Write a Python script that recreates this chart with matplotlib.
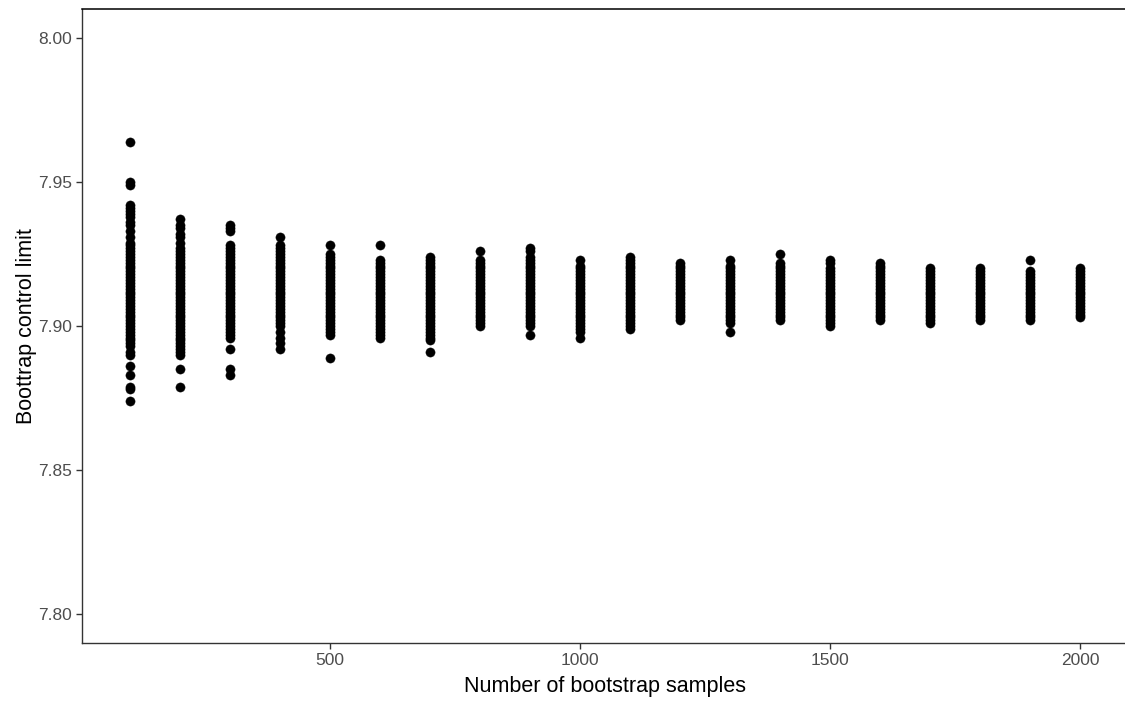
import matplotlib.pyplot as plt

# Bootstrap control limits observed at each number of bootstrap samples
sample_sizes = [100, 200, 300, 400, 500, 600, 700, 800, 900, 1000,
                1100, 1200, 1300, 1400, 1500, 1600, 1700, 1800, 1900, 2000]

limits_100 = [7.964, 7.950, 7.949, 7.942, 7.941, 7.940, 7.939, 7.938, 7.936, 7.935, 7.933,
              7.931, 7.929, 7.928, 7.927, 7.926, 7.925, 7.924, 7.923, 7.922, 7.921, 7.920,
              7.919, 7.918, 7.917, 7.916, 7.915, 7.914, 7.913, 7.912, 7.911, 7.910, 7.909,
              7.908, 7.907, 7.906, 7.905, 7.904, 7.903, 7.902, 7.901, 7.900, 7.899, 7.898,
              7.897, 7.896, 7.895, 7.894, 7.893, 7.891, 7.890, 7.886, 7.883, 7.879, 7.878,
              7.874]
limits_200 = [7.937, 7.935, 7.934, 7.932, 7.931, 7.929, 7.927, 7.926, 7.925, 7.924, 7.923,
              7.922, 7.921, 7.920, 7.919, 7.918, 7.917, 7.916, 7.915, 7.914, 7.913, 7.912,
              7.911, 7.910, 7.909, 7.908, 7.907, 7.906, 7.905, 7.904, 7.903, 7.902, 7.901,
              7.900, 7.899, 7.898, 7.897, 7.896, 7.895, 7.894, 7.893, 7.892, 7.891, 7.890,
              7.885, 7.879]
limits_300 = [7.935, 7.934, 7.933, 7.928, 7.927, 7.926, 7.925, 7.924, 7.923, 7.922, 7.921,
              7.920, 7.919, 7.918, 7.917, 7.916, 7.915, 7.914, 7.913, 7.912, 7.911, 7.910,
              7.909, 7.908, 7.907, 7.906, 7.905, 7.904, 7.903, 7.902, 7.901, 7.900, 7.899,
              7.898, 7.897, 7.896, 7.892, 7.885, 7.883]
limits_400 = [7.931, 7.928, 7.927, 7.926, 7.925, 7.924, 7.923, 7.922, 7.921, 7.920, 7.919,
              7.918, 7.917, 7.916, 7.915, 7.914, 7.913, 7.912, 7.911, 7.910, 7.909, 7.908,
              7.907, 7.906, 7.905, 7.904, 7.903, 7.902, 7.901, 7.900, 7.898, 7.896, 7.894,
              7.892]
limits_500 = [7.928, 7.925, 7.924, 7.923, 7.922, 7.921, 7.920, 7.919, 7.918, 7.917, 7.916,
              7.915, 7.914, 7.913, 7.912, 7.911, 7.910, 7.909, 7.908, 7.907, 7.906, 7.905,
              7.904, 7.903, 7.902, 7.901, 7.900, 7.899, 7.898, 7.897, 7.889]
limits_600 = [7.928, 7.923, 7.922, 7.921, 7.920, 7.919, 7.918, 7.917, 7.916, 7.915, 7.914,
              7.913, 7.912, 7.911, 7.910, 7.909, 7.908, 7.907, 7.906, 7.905, 7.904, 7.903,
              7.902, 7.901, 7.900, 7.899, 7.898, 7.897, 7.896]
limits_700 = [7.924, 7.923, 7.922, 7.921, 7.920, 7.919, 7.918, 7.917, 7.916, 7.915, 7.914,
              7.913, 7.912, 7.911, 7.910, 7.909, 7.908, 7.907, 7.906, 7.905, 7.904, 7.903,
              7.902, 7.901, 7.900, 7.899, 7.898, 7.897, 7.896, 7.895, 7.891]
limits_800 = [7.926, 7.923, 7.922, 7.921, 7.920, 7.919, 7.918, 7.917, 7.916, 7.915, 7.914,
              7.913, 7.912, 7.911, 7.910, 7.909, 7.908, 7.907, 7.906, 7.905, 7.904, 7.903,
              7.902, 7.901, 7.900]
limits_900 = [7.927, 7.926, 7.924, 7.923, 7.922, 7.921, 7.920, 7.919, 7.918, 7.917, 7.916,
              7.915, 7.914, 7.913, 7.912, 7.911, 7.910, 7.909, 7.908, 7.907, 7.906, 7.905,
              7.904, 7.903, 7.902, 7.901, 7.900, 7.897]
limits_1000 = [7.923, 7.921, 7.920, 7.919, 7.918, 7.917, 7.916, 7.915, 7.914, 7.913, 7.912,
               7.911, 7.910, 7.909, 7.908, 7.907, 7.906, 7.905, 7.904, 7.903, 7.902, 7.901,
               7.900, 7.899, 7.898, 7.896]
limits_1100 = [7.924, 7.923, 7.922, 7.921, 7.920, 7.919, 7.918, 7.917, 7.916, 7.915, 7.914,
               7.913, 7.912, 7.911, 7.910, 7.909, 7.908, 7.907, 7.906, 7.905, 7.904, 7.903,
               7.902, 7.901, 7.900, 7.899]
limits_1200 = [7.922, 7.921, 7.920, 7.919, 7.918, 7.917, 7.916, 7.915, 7.914, 7.913, 7.912,
               7.911, 7.910, 7.909, 7.908, 7.907, 7.906, 7.905, 7.904, 7.903, 7.902]
limits_1300 = [7.923, 7.921, 7.920, 7.919, 7.918, 7.917, 7.916, 7.915, 7.914, 7.913, 7.912,
               7.911, 7.910, 7.909, 7.908, 7.907, 7.906, 7.905, 7.904, 7.903, 7.902, 7.901,
               7.898]
limits_1400 = [7.925, 7.922, 7.921, 7.920, 7.919, 7.918, 7.917, 7.916, 7.915, 7.914, 7.913,
               7.912, 7.911, 7.910, 7.909, 7.908, 7.907, 7.906, 7.905, 7.904, 7.903, 7.902]
limits_1500 = [7.923, 7.922, 7.920, 7.919, 7.918, 7.917, 7.916, 7.915, 7.914, 7.913, 7.912,
               7.911, 7.910, 7.909, 7.908, 7.907, 7.906, 7.905, 7.904, 7.903, 7.902, 7.901,
               7.900]
limits_1600 = [7.922, 7.921, 7.920, 7.919, 7.918, 7.917, 7.916, 7.915, 7.914, 7.913, 7.912,
               7.911, 7.910, 7.909, 7.908, 7.907, 7.906, 7.905, 7.904, 7.903, 7.902]
limits_1700 = [7.920, 7.919, 7.918, 7.917, 7.916, 7.915, 7.914, 7.913, 7.912, 7.911, 7.910,
               7.909, 7.908, 7.907, 7.906, 7.905, 7.904, 7.903, 7.902, 7.901]
limits_1800 = [7.920, 7.919, 7.918, 7.917, 7.916, 7.915, 7.914, 7.913, 7.912, 7.911, 7.910,
               7.909, 7.908, 7.907, 7.906, 7.905, 7.904, 7.903, 7.902]
limits_1900 = [7.923, 7.919, 7.918, 7.917, 7.916, 7.915, 7.914, 7.913, 7.912, 7.911, 7.910,
               7.909, 7.908, 7.907, 7.906, 7.905, 7.904, 7.903, 7.902]
limits_2000 = [7.920, 7.919, 7.918, 7.917, 7.916, 7.915, 7.914, 7.913, 7.912, 7.911, 7.910,
               7.909, 7.908, 7.907, 7.906, 7.905, 7.904, 7.903]

all_limits = [limits_100, limits_200, limits_300, limits_400, limits_500,
              limits_600, limits_700, limits_800, limits_900, limits_1000,
              limits_1100, limits_1200, limits_1300, limits_1400, limits_1500,
              limits_1600, limits_1700, limits_1800, limits_1900, limits_2000]

y_ticks = [7.80, 7.85, 7.90, 7.95, 8.00]
x_ticks = [500, 1000, 1500, 2000]

plt.rcParams['font.family'] = ['Liberation Sans', 'DejaVu Sans']

fig = plt.figure(figsize=(11.25, 7.02), dpi=100)
ax = fig.add_axes([0.0729, 0.084, 0.9293, 0.903])

for n, vals in zip(sample_sizes, all_limits):
    ax.scatter([n] * len(vals), vals, s=44, color='black',
               edgecolors='black', linewidths=0.3, zorder=3)

ax.set_xlim(5, 2095)
ax.set_ylim(7.79, 8.01)
ax.set_xticks(x_ticks)
ax.set_yticks(y_ticks)
ax.set_yticklabels([f"{v:.2f}" for v in y_ticks])

ax.spines['right'].set_visible(False)
ax.spines['top'].set_color('black')
ax.spines['top'].set_linewidth(1.1)
for side in ('left', 'bottom'):
    ax.spines[side].set_color('#333333')
    ax.spines[side].set_linewidth(1.0)

ax.tick_params(axis='both', colors='#333333', labelcolor='#4D4D4D',
               labelsize=12.5, length=4, width=1.0, pad=3)

ax.set_xlabel('Number of bootstrap samples', fontsize=15.5, color='black', labelpad=6)
ax.set_ylabel('Boottrap control limit', fontsize=15.5, color='black', labelpad=1)

fig.savefig('out.png', dpi=100, facecolor='white')
